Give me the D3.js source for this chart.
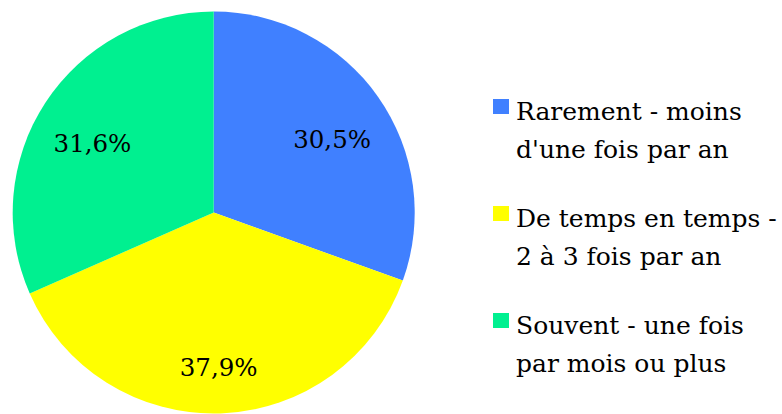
<!DOCTYPE html>
<html>
<head>
<meta charset="utf-8">
<script src="https://cdn.jsdelivr.net/npm/d3@7"></script>
<style>
  body { margin: 0; background: #fff; }
</style>
</head>
<body>
<div id="chart"></div>
<script>
// data
var categories = ["Rarement - moins d'une fois par an", "De temps en temps - 2 à 3 fois par an", "Souvent - une fois par mois ou plus"];
var legendLines = [["Rarement - moins", "d'une fois par an"], ["De temps en temps -", "2 à 3 fois par an"], ["Souvent - une fois", "par mois ou plus"]];
var values = [30.5, 37.9, 31.6];
var colors = ["#4080FF", "#FFFF00", "#00F090"];

// the only serif face that resolves here
var serif = "DejaVu Serif";

var width = 782, height = 414,
    cx = 213.7, cy = 212.5, radius = 201;

var svg = d3.select("#chart")
  .append("svg")
    .attr("width", width)
    .attr("height", height);

var g = svg.append("g")
  .attr("transform", "translate(" + cx + "," + cy + ")");

var pie = d3.pie().sort(null).value(function(d) { return d; });
var arcs = pie(values);

var arc = d3.arc().innerRadius(0).outerRadius(radius);
var labelArc = d3.arc().innerRadius(radius * 0.72).outerRadius(radius * 0.72);

g.selectAll("path")
  .data(arcs)
  .enter()
  .append("path")
    .attr("d", arc)
    .attr("fill", function(d, i) { return colors[i]; });

g.selectAll("text.lbl")
  .data(arcs)
  .enter()
  .append("text")
    .attr("class", "lbl")
    .attr("transform", function(d) { return "translate(" + labelArc.centroid(d) + ")"; })
    .attr("dy", "0.76em")
    .attr("text-anchor", "middle")
    .attr("font-family", serif)
    .attr("font-size", "24.5px")
    .text(function(d) { return d.data.toFixed(1).replace(".", ",") + "%"; });

// legend
var legend = svg.append("g").attr("transform", "translate(493,0)");
var item = legend.selectAll("g")
  .data(categories)
  .enter()
  .append("g")
    .attr("transform", function(d, i) { return "translate(0," + (99 + i * 107) + ")"; });

item.append("rect")
  .attr("width", 16)
  .attr("height", 15)
  .attr("fill", function(d, i) { return colors[i]; });

item.append("text")
  .attr("font-family", serif)
  .attr("font-size", "25px")
  .selectAll("tspan")
  .data(function(d, i) { return legendLines[i]; })
  .enter()
  .append("tspan")
    .attr("x", 23)
    .attr("y", function(d, j) { return 21 + j * 38; })
    .text(function(d) { return d; });
</script>
</body>
</html>
